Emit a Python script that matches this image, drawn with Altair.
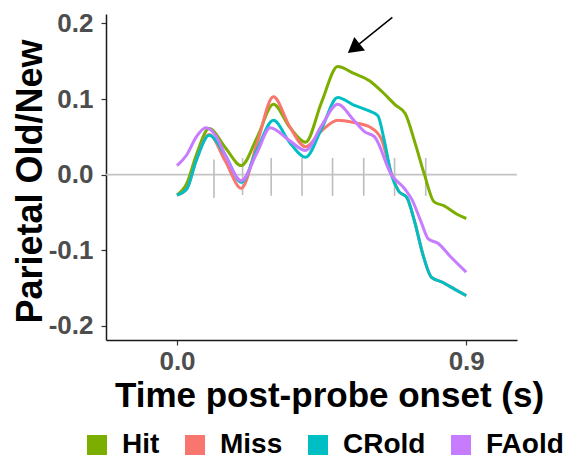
import altair as alt
import pandas as pd

series_names = ["Hit", "Miss", "CRold", "FAold"]
series_colors = ["#7CAE00", "#F8766D", "#00BFC4", "#C77CFF"]

hit_x = [0, 0.03, 0.06, 0.10, 0.15, 0.20, 0.25, 0.30, 0.35, 0.40, 0.45, 0.50, 0.55, 0.60, 0.64, 0.68, 0.71, 0.74, 0.77, 0.80, 0.83, 0.87, 0.90]
hit_y = [-0.027, -0.012, 0.026, 0.061, 0.036, 0.012, 0.050, 0.093, 0.063, 0.043, 0.096, 0.143, 0.134, 0.124, 0.109, 0.092, 0.081, 0.043, 0.0, -0.036, -0.041, -0.052, -0.058]

miss_x = [0, 0.03, 0.06, 0.10, 0.15, 0.20, 0.25, 0.30, 0.35, 0.40, 0.45, 0.50, 0.55, 0.60, 0.635, 0.667, 0.69, 0.715, 0.74, 0.766, 0.792, 0.824, 0.866, 0.90]
miss_y = [-0.027, -0.019, 0.019, 0.053, 0.018, -0.018, 0.043, 0.103, 0.064, 0.037, 0.058, 0.072, 0.069, 0.063, 0.048, 0.002, -0.022, -0.030, -0.063, -0.107, -0.136, -0.142, -0.152, -0.160]

crold_x = [0, 0.03, 0.06, 0.10, 0.15, 0.20, 0.25, 0.30, 0.35, 0.40, 0.45, 0.50, 0.55, 0.60, 0.625, 0.645, 0.667, 0.69, 0.715, 0.74, 0.766, 0.792, 0.824, 0.866, 0.90]
crold_y = [-0.027, -0.019, 0.019, 0.052, 0.026, -0.010, 0.034, 0.072, 0.043, 0.023, 0.061, 0.102, 0.092, 0.084, 0.078, 0.045, 0.000, -0.022, -0.030, -0.063, -0.107, -0.136, -0.142, -0.152, -0.160]

faold_x = [0, 0.03, 0.06, 0.09, 0.12, 0.15, 0.20, 0.25, 0.29, 0.35, 0.40, 0.45, 0.50, 0.55, 0.583, 0.615, 0.667, 0.709, 0.73, 0.76, 0.782, 0.813, 0.85, 0.90]
faold_y = [0.012, 0.026, 0.050, 0.062, 0.052, 0.026, -0.008, 0.030, 0.062, 0.045, 0.032, 0.065, 0.093, 0.072, 0.057, 0.050, 0.000, -0.019, -0.032, -0.063, -0.085, -0.091, -0.108, -0.129]

marker_x = [0.115, 0.204, 0.293, 0.389, 0.484, 0.581, 0.677, 0.774]
marker_top = [0.020, 0.022, 0.022, 0.022, 0.022, 0.022, 0.022, 0.022]
marker_bottom = [-0.031, -0.027, -0.028, -0.028, -0.028, -0.028, -0.028, -0.028]

arrow_tail = [0.67, 0.208]
arrow_head = [0.550, 0.167]

x_ticks = [0.0, 0.9]
y_ticks = [-0.2, -0.1, 0.0, 0.1, 0.2]

rows = []
for name, xs, ys in [("Hit", hit_x, hit_y), ("Miss", miss_x, miss_y),
                     ("CRold", crold_x, crold_y), ("FAold", faold_x, faold_y)]:
    for x, y in zip(xs, ys):
        rows.append({"series": name, "t": x, "v": y})
df = pd.DataFrame(rows)

markers = pd.DataFrame({"t": marker_x, "top": marker_top, "bottom": marker_bottom})
arrow = pd.DataFrame({"t": [arrow_tail[0]], "v": [arrow_tail[1]],
                      "t2": [arrow_head[0]], "v2": [arrow_head[1]]})

FONT = "Liberation Sans"

xscale = alt.Scale(domain=[-0.221, 1.058], nice=False, zero=False)
yscale = alt.Scale(domain=[-0.2187, 0.2125], nice=False, zero=False)

x_axis = alt.Axis(values=x_ticks, format=".1f", title="Time post-probe onset (s)",
                  titleX=223, titleY=66, titleBaseline="alphabetic", titleAlign="center")
y_axis = alt.Axis(values=y_ticks, title="Parietal Old/New",
                  labelExpr="datum.value < 0 ? '-' + format(-datum.value, '.1f') : format(datum.value, '.1f')",
                  titleX=-65, titleY=167, titleBaseline="alphabetic", titleAlign="center", titleAngle=270)

X = alt.X("t:Q", scale=xscale, axis=x_axis)
Y = alt.Y("v:Q", scale=yscale, axis=y_axis)

zero_line = alt.Chart(pd.DataFrame({"z": [0.0]})).mark_rule(color="#C4C4C4", strokeWidth=1.6).encode(
    y=alt.Y("z:Q", scale=yscale, axis=y_axis)
)

tick_marks = alt.Chart(markers).mark_rule(color="#BDBDBD", strokeWidth=1.6).encode(
    x=alt.X("t:Q", scale=xscale, axis=x_axis),
    y=alt.Y("top:Q", scale=yscale, axis=y_axis),
    y2="bottom:Q",
)

color = alt.Color(
    "series:N",
    scale=alt.Scale(domain=series_names, range=series_colors),
    legend=alt.Legend(
        title=None, orient="none", legendX=-23, legendY=417, direction="horizontal",
        symbolType="square", symbolSize=100, symbolStrokeWidth=10, symbolOpacity=1,
        labelFont=FONT, labelFontSize=28, labelFontWeight="bold", labelColor="#000000",
        labelOffset=11, columnPadding=10, padding=0,
    ),
)

lines = []
for name in series_names:
    lines.append(
        alt.Chart(df).transform_filter(alt.datum.series == name)
        .mark_line(interpolate="monotone", strokeWidth=3)
        .encode(x=X, y=Y, color=color)
    )

arrow_line = alt.Chart(arrow).mark_rule(color="#000000", strokeWidth=1.5).encode(
    x=X, y=Y, x2="t2:Q", y2="v2:Q"
)
arrow_tip = alt.Chart(arrow).mark_point(shape="triangle-up", filled=True, color="#000000",
                                        size=300, angle=231.7, opacity=1).encode(
    x=alt.X("t2:Q", scale=xscale, axis=x_axis), y=alt.Y("v2:Q", scale=yscale, axis=y_axis)
)

chart = alt.layer(zero_line, tick_marks, *lines, arrow_line, arrow_tip).properties(
    width=411, height=326,
    autosize=alt.AutoSizeParams(type="none"),
    padding={"left": 98, "top": 6, "right": 58, "bottom": 120},
).configure_view(stroke=None).configure_axis(
    grid=False,
    domainColor="#1A1A1A", domainWidth=1.5,
    tickColor="#333333", tickSize=5, tickWidth=1.2,
    labelFont=FONT, labelFontSize=26, labelFontWeight="bold", labelColor="#4D4D4D",
    titleFont=FONT, titleFontWeight="bold", titleColor="#000000",
).configure_axisX(labelPadding=3, titleFontSize=35).configure_axisY(labelPadding=8, titleFontSize=36)

chart.save("out.html", embed_options={"renderer": "svg", "actions": False})
